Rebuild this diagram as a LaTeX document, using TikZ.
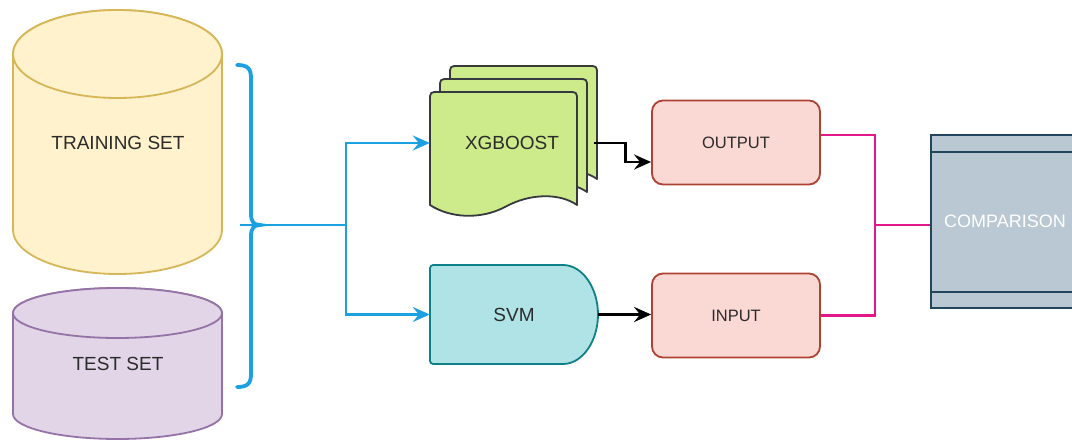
\documentclass[tikz,border=0pt]{standalone}
\usepackage{fontspec}
\setmainfont{Liberation Sans}
\usetikzlibrary{arrows.meta}
\definecolor{trainfill}{HTML}{FFF2CC}\definecolor{trainline}{HTML}{D6B656}
\definecolor{testfill}{HTML}{E1D5E7}\definecolor{testline}{HTML}{9673A6}
\definecolor{xgbfill}{HTML}{CDEB8B}\definecolor{xgbline}{HTML}{36393D}
\definecolor{svmfill}{HTML}{B0E3E6}\definecolor{svmline}{HTML}{0E8088}
\definecolor{redfill}{HTML}{FAD9D5}\definecolor{redline}{HTML}{AE4132}
\definecolor{compfill}{HTML}{BAC8D3}\definecolor{compline}{HTML}{23445D}
\definecolor{bluec}{HTML}{1BA1E2}
\definecolor{pinkc}{HTML}{E3168A}
\definecolor{txtc}{HTML}{2B2B2B}
\newcommand\drawcyl[6]{%
  \pgfmathsetmacro\cylL{#2-#3}\pgfmathsetmacro\cylR{#2+#3}%
  \pgfmathsetmacro\cylKx{0.5523*#3}\pgfmathsetmacro\cylKy{0.5523*#5}%
  \filldraw[#1] (\cylL,#4) -- (\cylL,#6)
    .. controls (\cylL,#6+\cylKy) and (#2-\cylKx,#6+#5) .. (#2,#6+#5)
    .. controls (#2+\cylKx,#6+#5) and (\cylR,#6+\cylKy) .. (\cylR,#6)
    -- (\cylR,#4)
    .. controls (\cylR,#4-\cylKy) and (#2+\cylKx,#4-#5) .. (#2,#4-#5)
    .. controls (#2-\cylKx,#4-#5) and (\cylL,#4-\cylKy) .. (\cylL,#4) -- cycle;
  \draw[#1] (#2,#4) ellipse [x radius=#3, y radius=#5];}
\begin{document}
\begin{tikzpicture}[x=1pt,y=-1pt,
  txt/.style={text=txtc, font=\fontsize{19}{22}\selectfont, inner sep=0pt},
  cylA/.style={fill=trainfill, draw=trainline, line width=1.8pt},
  cylB/.style={fill=testfill, draw=testline, line width=1.8pt},
  xgbshape/.style={fill=xgbfill, draw=xgbline, line width=1.8pt, line join=round},
  svmshape/.style={fill=svmfill, draw=svmline, line width=1.8pt, line join=round},
  redbox/.style={rectangle, rounded corners=11pt, fill=redfill, draw=redline, line width=1.8pt,
    minimum width=168pt, minimum height=84pt, text=txtc, font=\fontsize{16.5}{19}\selectfont},
  compbox/.style={rectangle, fill=compfill, draw=compline, line width=1.8pt,
    minimum width=148pt, minimum height=173pt, text=white, font=\fontsize{18}{21}\selectfont},
  bluel/.style={draw=bluec, line width=2.2pt},
  bluearr/.style={bluel, -{Stealth[length=17pt,width=15pt,inset=6pt]}},
  blkarr/.style={draw=black, line width=2.8pt, -{Stealth[length=17pt,width=15pt,inset=6pt]}},
  pinkl/.style={draw=pinkc, line width=2.2pt},
  bracel/.style={draw=bluec, line width=3.8pt, line cap=round}
]
\useasboundingbox (0,0) rectangle (1072,441);
\clip (0,0) rectangle (1072,441);

% cylinders
\drawcyl{cylA}{117.5}{104.5}{54}{44}{230}
\drawcyl{cylB}{117.5}{104.5}{313}{25}{414}
\node[txt] (train) at (118,143) {TRAINING SET};
\node[txt] (test) at (118,364) {TEST SET};

% brace
\draw[bracel] (237,65) .. controls (247,65) and (251,68) .. (251,78) -- (251,214)
  .. controls (251,222) and (254,225) .. (260,225)
  .. controls (254,225) and (251,228) .. (251,236) -- (251,374)
  .. controls (251,384) and (247,387) .. (237,387);
\coordinate (bt) at (240,225);
\coordinate (split) at (346,225);

% XGBOOST multi-document
\foreach \s in {2,1,0}{
  \filldraw[xgbshape, shift={(10*\s,-13*\s)}] (430,101) .. controls (430,92) .. (439,92) -- (568,92)
    .. controls (577,92) .. (577,101) -- (577,205)
    .. controls (560,193) and (530,193) .. (505,207)
    .. controls (480,220) and (450,218) .. (430,205) -- cycle;
}
\node[txt, minimum width=164pt, minimum height=100pt] (xgb) at (512,143) {XGBOOST};

% SVM delay shape
\filldraw[svmshape] (430,272) .. controls (430,265) .. (437,265) -- (563,265)
  .. controls (582.3,265) and (598,287.8) .. (598,314.5)
  .. controls (598,341.2) and (582.3,364) .. (563,364) -- (437,364)
  .. controls (430,364) .. (430,357) -- cycle;
\node[txt, minimum width=168pt, minimum height=99pt] (svm) at (514,314.5) {SVM};

% output / input
\node[redbox] (outp) at (736,142.5) {OUTPUT};
\node[redbox] (inp) at (736,315.5) {INPUT};

% comparison
\node[compbox] (comp) at (1005,221.5) {COMPARISON};
\draw[draw=compline, line width=1.8pt] ([yshift=-18pt]comp.north west) -- ([yshift=-18pt]comp.north east);
\draw[draw=compline, line width=1.8pt] ([yshift=17pt]comp.south west) -- ([yshift=17pt]comp.south east);

% connectors
\draw[bluel] (bt) -- (split);
\draw[bluearr] (split) |- (xgb.west);
\draw[bluearr] (split) |- (svm.west);
\draw[blkarr] (xgb.east) -- ++(31,0) |- ([yshift=-19.5pt]outp.west);
\draw[blkarr] (svm.east) -- (inp.west |- svm.east);
\coordinate (pj) at (875,225);
\draw[pinkl] ([yshift=7.5pt]outp.east) -| (pj);
\draw[pinkl] (inp.east) -| (pj);
\draw[pinkl] (pj) -- (comp.west |- pj);
\end{tikzpicture}
\end{document}
